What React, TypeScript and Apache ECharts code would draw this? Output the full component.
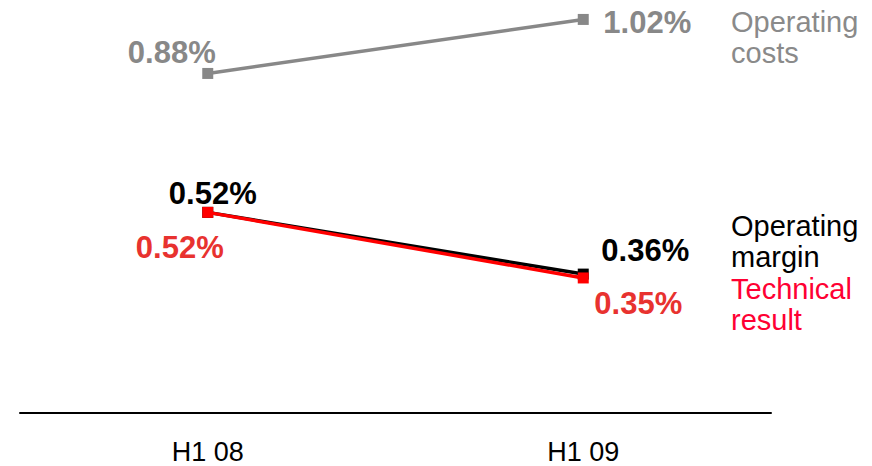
import React, { useEffect, useRef } from "react";
import * as echarts from "echarts";

const categories = ["H1 08", "H1 09"];
const operatingCosts = [0.88, 1.02];
const operatingMargin = [0.52, 0.36];
const technicalResult = [0.52, 0.35];

// label offsets (px) from each point to the centre of its value label
const costsLabelOffsets = [[-36, -21], [64, 3]];
const marginLabelOffsets = [[5, -19], [62, -24]];
const technicalLabelOffsets = [[-28, 35], [55, 26]];

const GRAY = "#888888";
const BLACK = "#000000";
const RED_LINE = "#ff0000";
const RED_LABEL = "#e8322f";
const RED_LEGEND = "#ff0033";
const FONT = "Arial, 'Liberation Sans', sans-serif";

function buildData(values: number[], offsets: number[][]) {
  return values.map((v, i) => ({ value: v, label: { offset: offsets[i] } }));
}

function lineSeries(name: string, values: number[], offsets: number[][], lineColor: string, labelColor: string, z: number) {
  return {
    name,
    type: "line",
    z,
    data: buildData(values, offsets),
    symbol: "rect",
    symbolSize: 11,
    lineStyle: { color: lineColor, width: 3.5 },
    itemStyle: { color: lineColor },
    label: {
      show: true,
      position: "inside",
      align: "center",
      verticalAlign: "middle",
      formatter: (p: any) => `${Number(p.value).toFixed(2)}%`,
      color: labelColor,
      fontFamily: FONT,
      fontWeight: "bold",
      fontSize: 31,
    },
  };
}

export default function App() {
  const ref = useRef<HTMLDivElement>(null);

  useEffect(() => {
    if (!ref.current) return;
    const chart = echarts.init(ref.current, null, { renderer: "svg" });
    chart.setOption({
      animation: false,
      backgroundColor: "#ffffff",
      grid: { left: 20, right: 101, top: 4, bottom: 53 },
      xAxis: {
        type: "category",
        data: categories,
        boundaryGap: true,
        axisLine: { show: true, lineStyle: { color: BLACK, width: 2 } },
        axisTick: { show: false },
        axisLabel: {
          color: BLACK,
          fontFamily: FONT,
          fontSize: 27,
          lineHeight: 27,
          margin: 25,
        },
      },
      yAxis: {
        type: "value",
        min: 0,
        max: 1.06,
        show: false,
        splitLine: { show: false },
      },
      series: [
        lineSeries("Operating costs", operatingCosts, costsLabelOffsets, GRAY, GRAY, 2),
        lineSeries("Operating margin", operatingMargin, marginLabelOffsets, BLACK, BLACK, 3),
        lineSeries("Technical result", technicalResult, technicalLabelOffsets, RED_LINE, RED_LABEL, 4),
      ],
      graphic: [
        {
          type: "text",
          left: 731,
          top: 6,
          style: { text: "Operating\ncosts", fill: "#8a8a8a", font: `29px ${FONT}`, lineHeight: 31 },
        },
        {
          type: "text",
          left: 731,
          top: 210,
          style: { text: "Operating\nmargin", fill: BLACK, font: `29px ${FONT}`, lineHeight: 31 },
        },
        {
          type: "text",
          left: 731,
          top: 273,
          style: { text: "Technical\nresult", fill: RED_LEGEND, font: `29px ${FONT}`, lineHeight: 31 },
        },
      ],
    });
    return () => chart.dispose();
  }, []);

  return <div ref={ref} style={{ position: "fixed", left: 0, top: 0, width: 872, height: 466 }} />;
}
